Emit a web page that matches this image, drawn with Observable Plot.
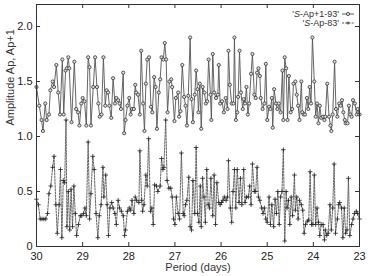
<!DOCTYPE html>
<html>
<head>
<meta charset="utf-8">
<script src="https://cdn.jsdelivr.net/npm/d3@7"></script>
<script src="https://cdn.jsdelivr.net/npm/@observablehq/plot@0.6"></script>
<style>
  html, body { margin: 0; padding: 0; background: #fff; }
  #wrap { position: relative; width: 368px; height: 276px; }
  #legend { position: absolute; right: 14px; top: 10px; font-family: "Liberation Sans", Arial, sans-serif; font-size: 9px; color: #333; line-height: 8.5px; text-align: right; }
  #legend .row { display: flex; align-items: center; justify-content: flex-end; }
  #legend svg { margin-left: 3px; }
</style>
</head>
<body>
<div id="wrap"><div id="legend"></div></div>
<script>
// Series 'S-Ap+1-93' (circles, solid)
const periodA = [30.00,29.94,29.89,29.86,29.81,29.78,29.73,29.70,29.65,29.62,29.57,29.53,29.49,29.44,29.41,29.37,29.34,29.31,29.29,29.24,29.18,29.14,29.10,29.07,29.03,29.00,28.96,28.92,28.88,28.85,28.82,28.77,28.73,28.69,28.66,28.63,28.59,28.55,28.51,28.48,28.45,28.42,28.38,28.34,28.30,28.27,28.23,28.20,28.17,28.12,28.10,28.07,28.03,27.99,27.96,27.93,27.89,27.86,27.84,27.80,27.76,27.73,27.69,27.66,27.63,27.60,27.56,27.52,27.49,27.45,27.42,27.39,27.35,27.32,27.29,27.25,27.22,27.19,27.16,27.12,27.08,27.06,27.01,26.98,26.93,26.91,26.88,26.84,26.80,26.77,26.74,26.71,26.67,26.64,26.61,26.57,26.54,26.51,26.49,26.46,26.43,26.40,26.36,26.33,26.30,26.27,26.23,26.21,26.18,26.15,26.11,26.07,26.05,26.02,25.98,25.94,25.90,25.86,25.84,25.81,25.77,25.73,25.71,25.68,25.65,25.63,25.60,25.57,25.53,25.51,25.48,25.45,25.42,25.39,25.35,25.32,25.28,25.25,25.22,25.19,25.16,25.14,25.10,25.06,25.03,25.00,24.96,24.93,24.90,24.88,24.85,24.81,24.78,24.75,24.71,24.67,24.65,24.62,24.59,24.56,24.53,24.49,24.46,24.43,24.39,24.36,24.33,24.30,24.26,24.24,24.21,24.18,24.14,24.11,24.08,24.05,24.02,23.98,23.95,23.92,23.89,23.86,23.83,23.79,23.76,23.74,23.70,23.66,23.63,23.61,23.58,23.54,23.51,23.48,23.44,23.41,23.38,23.35,23.32,23.30,23.26,23.23,23.20,23.17,23.14,23.10,23.06,23.04,23.00];
const ampA = [1.45,1.28,1.15,1.05,1.30,1.15,1.20,1.42,1.50,1.45,1.65,1.40,1.20,1.70,1.20,1.60,1.62,1.72,1.62,1.13,1.68,1.25,1.22,1.10,1.30,1.35,1.32,1.10,1.72,1.63,1.10,1.45,1.72,1.45,1.30,1.18,1.20,1.72,1.28,1.42,1.40,1.28,1.17,1.53,1.30,1.35,1.33,1.30,1.25,1.58,1.03,1.15,1.28,1.35,1.20,1.25,1.25,1.47,1.40,1.38,1.20,1.78,1.30,1.05,1.48,1.70,1.72,1.27,1.22,1.54,1.45,1.07,1.40,1.52,1.72,1.70,1.85,1.70,1.22,1.50,1.52,1.45,1.14,1.35,1.40,1.18,1.23,1.65,1.36,1.28,1.10,1.37,1.90,1.34,1.13,1.38,1.60,1.43,1.22,1.48,1.07,1.45,1.40,1.30,1.32,1.70,1.38,1.15,1.75,1.40,1.35,1.38,1.65,1.30,1.32,1.22,1.35,1.25,1.78,1.47,1.30,1.30,1.90,1.15,1.22,1.36,1.78,1.40,1.25,1.34,1.30,1.45,1.20,1.30,1.57,1.75,1.38,1.35,1.58,1.62,1.55,1.35,1.25,1.30,1.66,1.15,1.27,1.25,1.35,1.08,1.43,1.30,1.25,1.30,1.22,1.60,1.15,1.72,1.62,1.15,1.55,1.22,1.25,1.48,1.50,1.38,1.28,1.15,1.50,1.22,1.20,1.20,1.35,1.25,1.45,1.30,1.90,1.50,1.18,1.30,1.12,1.28,1.17,1.18,1.15,1.18,1.48,1.18,1.10,1.05,1.20,1.68,1.25,1.18,1.30,1.28,1.33,1.22,1.15,1.12,1.12,1.28,1.20,1.18,1.33,1.30,1.20,1.25,1.20];

// Series 'S-Ap-83' (plus, dashed)
const periodB = [30.00,29.96,29.92,29.88,29.84,29.80,29.76,29.73,29.69,29.65,29.62,29.58,29.55,29.51,29.48,29.45,29.42,29.39,29.36,29.34,29.31,29.28,29.25,29.22,29.19,29.16,29.13,29.09,29.05,29.02,28.98,28.95,28.92,28.88,28.85,28.82,28.78,28.75,28.71,28.67,28.64,28.60,28.56,28.54,28.50,28.47,28.44,28.41,28.37,28.34,28.30,28.27,28.23,28.20,28.16,28.12,28.09,28.07,28.03,27.99,27.96,27.93,27.89,27.86,27.83,27.78,27.76,27.72,27.70,27.67,27.63,27.60,27.57,27.53,27.50,27.47,27.44,27.40,27.37,27.32,27.29,27.26,27.24,27.20,27.17,27.13,27.09,27.06,27.03,27.00,26.97,26.93,26.90,26.86,26.82,26.80,26.77,26.74,26.70,26.67,26.64,26.61,26.57,26.54,26.51,26.48,26.45,26.43,26.40,26.37,26.34,26.31,26.28,26.25,26.22,26.18,26.15,26.12,26.09,26.05,26.02,25.99,25.96,25.93,25.89,25.86,25.84,25.80,25.77,25.74,25.71,25.68,25.65,25.61,25.58,25.55,25.51,25.48,25.45,25.41,25.38,25.35,25.32,25.28,25.25,25.22,25.19,25.16,25.12,25.09,25.06,25.03,25.00,24.96,24.93,24.90,24.86,24.83,24.80,24.77,24.74,24.71,24.68,24.65,24.62,24.59,24.57,24.54,24.51,24.48,24.45,24.41,24.39,24.36,24.33,24.30,24.26,24.23,24.20,24.17,24.13,24.10,24.07,24.04,24.01,23.98,23.95,23.92,23.89,23.86,23.83,23.79,23.76,23.74,23.71,23.68,23.64,23.61,23.58,23.55,23.52,23.48,23.45,23.43,23.39,23.36,23.33,23.30,23.27,23.24,23.21,23.17,23.14,23.11,23.07,23.04,23.00];
const ampB = [0.43,0.38,0.25,0.25,0.25,0.25,0.30,0.48,0.55,0.72,0.82,0.38,0.12,0.38,0.70,0.08,0.60,0.58,1.15,0.18,0.50,0.15,0.52,0.18,0.55,0.30,0.10,0.20,0.28,0.28,0.30,0.35,0.28,0.95,0.25,0.48,0.82,0.70,0.30,0.08,0.28,0.38,0.72,0.45,0.65,0.38,0.10,0.35,0.40,0.35,0.30,0.20,0.42,0.35,0.32,0.28,0.10,0.15,0.32,0.35,0.33,0.42,0.30,0.45,0.42,0.40,0.87,0.42,0.32,0.38,0.65,0.55,0.98,0.32,0.35,0.20,0.56,0.55,0.50,0.55,0.80,0.70,0.72,1.15,0.60,0.53,0.53,0.45,0.25,0.20,0.45,0.30,0.25,0.85,0.30,0.28,0.38,0.42,0.63,0.18,0.15,0.60,0.30,0.90,0.30,0.22,0.55,0.18,0.62,0.45,0.22,0.70,0.38,0.35,0.62,0.28,0.65,0.20,0.58,0.40,0.38,0.40,0.42,0.45,0.42,0.45,0.78,0.35,0.22,0.50,0.70,0.35,0.70,0.40,0.62,0.38,0.70,0.40,0.45,0.45,0.55,0.38,0.75,0.50,0.50,0.72,0.45,0.42,0.35,0.30,0.35,0.25,0.22,0.45,0.20,0.38,0.18,0.43,0.30,0.50,0.20,0.45,0.50,0.88,0.05,0.50,0.35,0.42,0.20,0.45,0.28,0.65,0.33,0.45,0.25,0.42,0.38,0.33,0.12,0.20,0.23,0.24,0.68,0.20,0.20,0.65,0.20,0.35,0.22,0.10,0.20,0.20,0.06,0.15,0.10,0.12,0.38,0.15,0.35,0.75,0.12,0.25,0.38,0.40,0.35,0.08,0.35,0.12,0.15,0.62,0.10,0.20,0.25,0.30,0.32,0.30,0.25];

const xTicks = [30, 29, 28, 27, 26, 25, 24, 23];
const yTicks = [0, 0.5, 1.0, 1.5, 2.0];
const seriesNames = ["'S-Ap+1-93'", "'S-Ap-83'"];
const xLabel = "Period (days)";
const yLabel = "Amplitude Ap, Ap+1";

const dataA = periodA.map((p, i) => ({period: p, amp: ampA[i]}));
const dataB = periodB.map((p, i) => ({period: p, amp: ampB[i]}));

const W = 368, H = 276, mL = 36, mR = 9, mT = 4, mB = 30;
const fw = W - mL - mR, fh = H - mT - mB, tk = 4;

const chart = Plot.plot({
  width: W, height: H,
  marginLeft: mL, marginRight: mR, marginTop: mT, marginBottom: mB,
  style: {fontFamily: "'Liberation Sans', Arial, sans-serif", fontSize: "11px", color: "#222", background: "white"},
  x: {domain: [30, 23], label: null},
  y: {domain: [0, 2.2], label: null},
  marks: [
    Plot.axisX({ticks: xTicks, tickSize: 0, tickPadding: 6, tickFormat: d => String(d), label: null, fontSize: 11}),
    Plot.axisY({ticks: yTicks, tickSize: 0, tickPadding: 4, tickFormat: d => d === 0 ? "0" : d.toFixed(1), label: null, fontSize: 11}),
    Plot.ruleX(xTicks, {x: d => d, insetTop: fh - tk, stroke: "#333"}),
    Plot.ruleX(xTicks, {x: d => d, insetBottom: fh - tk, stroke: "#333"}),
    Plot.ruleY(yTicks, {y: d => d, insetRight: fw - tk, stroke: "#333"}),
    Plot.ruleY(yTicks, {y: d => d, insetLeft: fw - tk, stroke: "#333"}),
    Plot.line(dataB, {x: "period", y: "amp", stroke: "#555", strokeWidth: 0.9, strokeDasharray: "2,1.2"}),
    Plot.dot(dataB, {x: "period", y: "amp", symbol: "plus", r: 1.6, stroke: "#222", strokeWidth: 0.8}),
    Plot.line(dataA, {x: "period", y: "amp", stroke: "#555", strokeWidth: 0.9}),
    Plot.dot(dataA, {x: "period", y: "amp", r: 1.6, stroke: "#333", strokeWidth: 0.8, fill: "#ddd"}),
    Plot.frame({stroke: "#333", strokeWidth: 1}),
    Plot.text([xLabel], {frameAnchor: "bottom", dy: 24.5, fontSize: 11, fill: "#333"}),
    Plot.text([yLabel], {frameAnchor: "left", dx: -26, rotate: -90, fontSize: 11, fill: "#333"})
  ]
});
const wrap = document.getElementById("wrap");
wrap.insertBefore(chart, wrap.firstChild);

// legend
const legend = document.getElementById("legend");
function row(name, dashed, symbol) {
  const d = document.createElement("div");
  d.className = "row";
  const t = document.createElement("span");
  t.innerHTML = name.replace(/^'S/, "'<i>S</i>");
  d.appendChild(t);
  const ns = "http://www.w3.org/2000/svg";
  const s = document.createElementNS(ns, "svg");
  s.setAttribute("width", 12); s.setAttribute("height", 6);
  const l = document.createElementNS(ns, "line");
  l.setAttribute("x1", 0); l.setAttribute("x2", 12); l.setAttribute("y1", 3); l.setAttribute("y2", 3);
  l.setAttribute("stroke", "#444"); l.setAttribute("stroke-width", 0.9);
  if (dashed) l.setAttribute("stroke-dasharray", "2,1.2");
  s.appendChild(l);
  if (symbol === "circle") {
    const c = document.createElementNS(ns, "circle");
    c.setAttribute("cx", 6); c.setAttribute("cy", 3); c.setAttribute("r", 1.6);
    c.setAttribute("fill", "#ddd"); c.setAttribute("stroke", "#333"); c.setAttribute("stroke-width", 0.8);
    s.appendChild(c);
  } else {
    const p = document.createElementNS(ns, "path");
    p.setAttribute("d", "M4.4,3H7.6M6,1.4V4.6");
    p.setAttribute("stroke", "#222"); p.setAttribute("stroke-width", 0.8);
    s.appendChild(p);
  }
  d.appendChild(s);
  legend.appendChild(d);
}
row(seriesNames[0], false, "circle");
row(seriesNames[1], true, "plus");
</script>
</body>
</html>
